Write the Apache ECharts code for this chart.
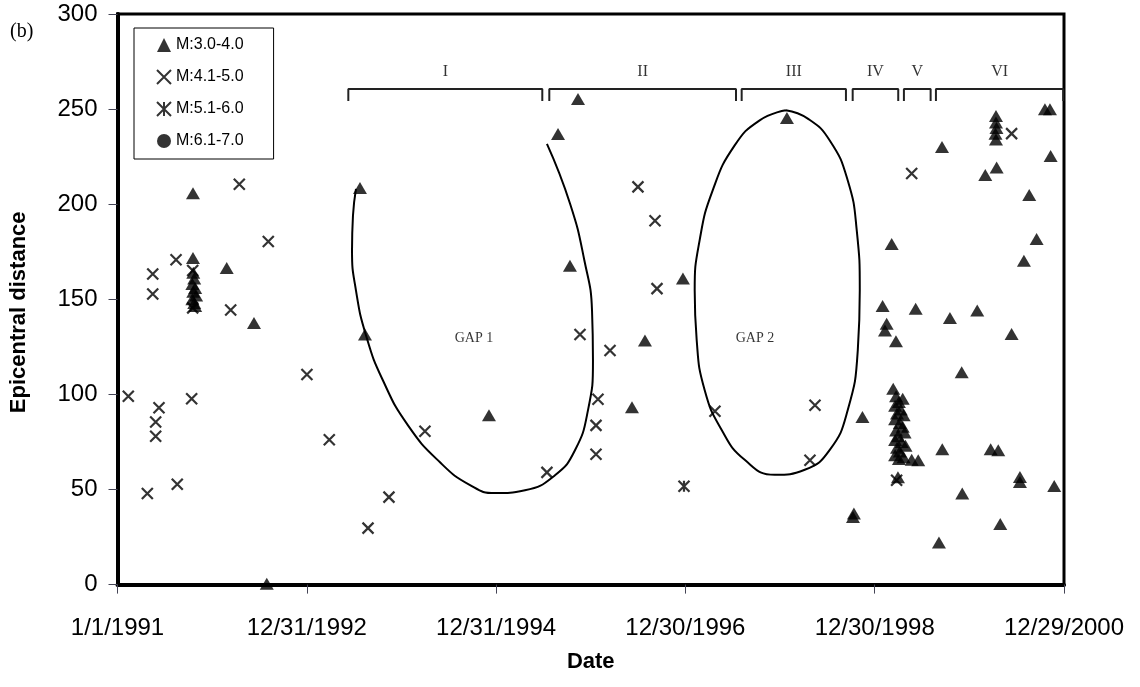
<!DOCTYPE html>
<html>
<head>
<meta charset="utf-8">
<script src="https://cdn.jsdelivr.net/npm/echarts@6/dist/echarts.min.js"></script>
<style>
  html, body { margin: 0; padding: 0; background: #fff; }
  #main { width: 1140px; height: 687px; }
</style>
</head>
<body>
<div id="main"></div>
<script>
// values as [decimal year, epicentral distance]
var m3 = [
  [1991.797, 205.8], [1991.797, 171.7], [1992.153, 166.5], [1992.441, 137.6],
  [1991.80, 164], [1991.81, 161], [1991.79, 158], [1991.82, 156], [1991.80, 154],
  [1991.83, 152], [1991.79, 150], [1991.81, 148], [1991.82, 146.5],
  [1992.576, 0.5],
  [1993.56, 208.5], [1993.613, 131.5], [1994.922, 89.0], [1995.651, 236.9],
  [1995.862, 255.3], [1995.777, 167.6], [1996.432, 93.2], [1996.569, 128.4],
  [1996.970, 160.9], [1998.068, 245.3],
  [1998.775, 37.4], [1998.765, 35.5], [1998.865, 88.1], [1999.174, 179.1],
  [1999.078, 146.5], [1999.121, 137.1], [1999.103, 133.6], [1999.219, 128.0],
  [1999.427, 145.0], [1999.789, 140.2], [2000.077, 144.1], [2000.440, 131.8],
  [1999.913, 111.7], [2000.704, 181.7], [2000.570, 170.3], [2000.792, 249.9],
  [2000.845, 249.9], [2000.852, 225.4], [2000.626, 204.9], [1999.705, 230.1],
  [2000.282, 219.3], [2000.162, 215.4],
  [2000.275, 246.4], [2000.275, 243], [2000.28, 240], [2000.27, 237], [2000.275, 234],
  [1999.708, 71.1], [2000.219, 71.1], [2000.299, 70.6], [2000.528, 56.6],
  [2000.528, 54.0], [2000.890, 51.8], [1999.919, 47.9], [2000.320, 31.8],
  [1999.673, 22.2], [1999.385, 65.7], [1999.454, 65.4], [1999.240, 56.5],
  [1999.19, 103], [1999.29, 97.7], [1999.22, 99], [1999.25, 96], [1999.21, 94],
  [1999.27, 92], [1999.23, 90], [1999.30, 89], [1999.21, 87], [1999.26, 85],
  [1999.29, 83], [1999.22, 81], [1999.31, 80], [1999.24, 78], [1999.21, 76],
  [1999.28, 75], [1999.32, 73], [1999.23, 72], [1999.26, 70], [1999.21, 68],
  [1999.30, 67], [1999.25, 66]
];
var m4 = [
  [1991.114, 99.0], [1991.315, 47.9], [1991.438, 93.0], [1991.403, 85.5],
  [1991.403, 78.0], [1991.631, 52.8], [1991.783, 97.7], [1991.372, 163.3],
  [1991.372, 152.8], [1991.618, 170.8], [1992.286, 210.5], [1992.592, 180.4],
  [1992.195, 144.4], [1991.794, 165.1], [1991.794, 145.5],
  [1993.0, 110.5], [1993.236, 76.2], [1993.645, 29.7], [1993.866, 46.0],
  [1994.246, 80.6], [1995.534, 59.0], [1995.883, 131.5], [1996.200, 123.1],
  [1996.073, 97.4], [1996.052, 83.7], [1996.052, 68.5], [1996.495, 209.1],
  [1996.675, 191.3], [1996.696, 155.6], [1997.308, 91.1], [1998.364, 94.3],
  [1998.311, 65.4], [1999.385, 216.1], [2000.440, 237.1], [1999.226, 54.9]
];
var m5 = [[1996.981, 51.7]];
var m6 = [];

var gap1 = [
  [1993.518, 208.1], [1993.486, 193.9], [1993.476, 175.6], [1993.518, 154.6],
  [1993.624, 131.0], [1993.803, 107.3], [1994.067, 83.7], [1994.405, 64.3],
  [1994.722, 52.3], [1994.985, 48.1], [1995.302, 49.6], [1995.619, 57.5],
  [1995.830, 70.6], [1995.967, 91.6], [1996.020, 117.8], [1996.010, 144.1],
  [1995.930, 170.3], [1995.780, 200.0], [1995.534, 231.7]
];
var gap2 = [
  [1998.056, 249.4], [1997.780, 244.1], [1997.516, 230.9], [1997.284, 207.3],
  [1997.146, 181.0], [1997.094, 154.8], [1997.115, 128.6], [1997.199, 102.3],
  [1997.379, 81.3], [1997.622, 65.6], [1997.939, 57.7], [1998.256, 60.4],
  [1998.520, 70.8], [1998.710, 91.8], [1998.816, 123.3], [1998.837, 154.8],
  [1998.805, 186.2], [1998.710, 212.5], [1998.520, 233.5], [1998.288, 245.0],
  [1998.056, 249.4]
];
var gapLabels = [['GAP 1', 1994.764, 129.4], ['GAP 2', 1997.73, 129.4]];

var periodNames = ['I', 'II', 'III', 'IV', 'V', 'VI'];
var periodStart = [1993.437, 1995.559, 1997.590, 1998.762, 1999.303, 1999.641];
var periodEnd = [1995.485, 1997.530, 1998.691, 1999.243, 1999.585, 2000.985];
var bracketTop = 260.6;
var bracketFoot = 254.3;

var xTicks = ['1/1/1991', '12/31/1992', '12/31/1994', '12/30/1996', '12/30/1998', '12/29/2000'];

function toDay(y) { return (y - 1991) * 365.25; }
function conv(arr) { return arr.map(function (p) { return [toDay(p[0]), p[1]]; }); }

var FONT = 'Liberation Sans, Arial, Helvetica, sans-serif';
var SERIF = 'Liberation Serif, Times New Roman, serif';
var crossPath = 'path://M0,0L10,10M10,0L0,10';
var starPath = 'path://M0,0L10,10M10,0L0,10M5,0L5,10';

var series = [
  {
    name: 'M:3.0-4.0', type: 'scatter', symbol: 'triangle', symbolSize: [14, 12],
    itemStyle: { color: '#000' }, data: conv(m3), z: 5
  },
  {
    name: 'M:4.1-5.0', type: 'scatter', symbol: crossPath, symbolSize: 11,
    itemStyle: { color: '#000', borderColor: '#000', borderWidth: 2.2 }, data: conv(m4), z: 5
  },
  {
    name: 'M:5.1-6.0', type: 'scatter', symbol: starPath, symbolSize: 11,
    itemStyle: { color: '#000', borderColor: '#000', borderWidth: 2.2 }, data: conv(m5), z: 5
  },
  {
    name: 'M:6.1-7.0', type: 'scatter', symbol: 'circle', symbolSize: 11,
    itemStyle: { color: '#000' }, data: conv(m6), z: 5
  },
  {
    type: 'line', data: conv(gap1), smooth: 0.5, showSymbol: false, silent: true,
    lineStyle: { color: '#000', width: 2 }
  },
  {
    type: 'line', data: conv(gap2), smooth: 0.5, showSymbol: false, silent: true,
    lineStyle: { color: '#000', width: 2 }
  },
  {
    type: 'scatter', symbolSize: 0, silent: true,
    data: gapLabels.map(function (g) { return { name: g[0], value: [toDay(g[1]), g[2]] }; }),
    label: {
      show: true, position: 'inside', formatter: '{b}', color: '#000',
      fontFamily: SERIF, fontSize: 14
    }
  }
];

periodNames.forEach(function (n, i) {
  var a = toDay(periodStart[i]), b = toDay(periodEnd[i]);
  series.push({
    type: 'line', showSymbol: false, silent: true,
    lineStyle: { color: '#222', width: 2 },
    data: [[a, bracketFoot], [a, bracketTop], [b, bracketTop], [b, bracketFoot]]
  });
  series.push({
    type: 'scatter', symbolSize: 0, silent: true,
    data: [{ name: n, value: [(a + b) / 2, bracketTop] }],
    label: {
      show: true, position: 'top', distance: 9, formatter: '{b}', color: '#000',
      fontFamily: SERIF, fontSize: 16
    }
  });
});

var chart = echarts.init(document.getElementById('main'));
chart.setOption({
  animation: false,
  backgroundColor: '#fff',
  graphic: [{
    type: 'text', left: 10, top: 22,
    style: { text: '(b)', fontFamily: SERIF, fontSize: 20, fill: '#000' }
  }],
  legend: {
    data: ['M:3.0-4.0', 'M:4.1-5.0', 'M:5.1-6.0', 'M:6.1-7.0'],
    orient: 'vertical', left: 134, top: 28,
    padding: [9, 30, 10, 22], itemGap: 16, itemWidth: 14, itemHeight: 14,
    borderColor: '#000', borderWidth: 1, backgroundColor: '#fff',
    textStyle: { fontFamily: FONT, fontSize: 16, color: '#000' },
    selectedMode: false
  },
  grid: {
    left: 117.5, right: 76, top: 14, bottom: 102.4,
    show: true, borderColor: '#000', borderWidth: 3,
    containLabel: false, outerBoundsMode: 'none'
  },
  xAxis: {
    type: 'value', min: 0, max: 3650, interval: 730,
    splitLine: { show: false },
    axisLine: { lineStyle: { color: '#000', width: 4 } },
    axisTick: { length: 9, lineStyle: { color: '#445', width: 1 } },
    axisLabel: {
      color: '#000', fontFamily: FONT, fontSize: 24, margin: 32,
      formatter: function (v) { return xTicks[Math.round(v / 730)]; }
    },
    name: 'Date', nameLocation: 'middle', nameGap: 66,
    nameTextStyle: { fontFamily: FONT, fontSize: 22, fontWeight: 'bold', color: '#000' }
  },
  yAxis: {
    type: 'value', min: 0, max: 300, interval: 50,
    splitLine: { show: false },
    axisLine: { show: true, lineStyle: { color: '#000', width: 4 } },
    axisTick: { show: true, length: 9, lineStyle: { color: '#445', width: 1 } },
    axisLabel: { color: '#000', fontFamily: FONT, fontSize: 24, margin: 20 },
    name: 'Epicentral distance', nameLocation: 'middle', nameGap: 88,
    nameTextStyle: {
      fontFamily: FONT, fontSize: 22, fontWeight: 'bold', color: '#000',
      padding: [0, 26, 0, 0]
    }
  },
  series: series
});
</script>
</body>
</html>
